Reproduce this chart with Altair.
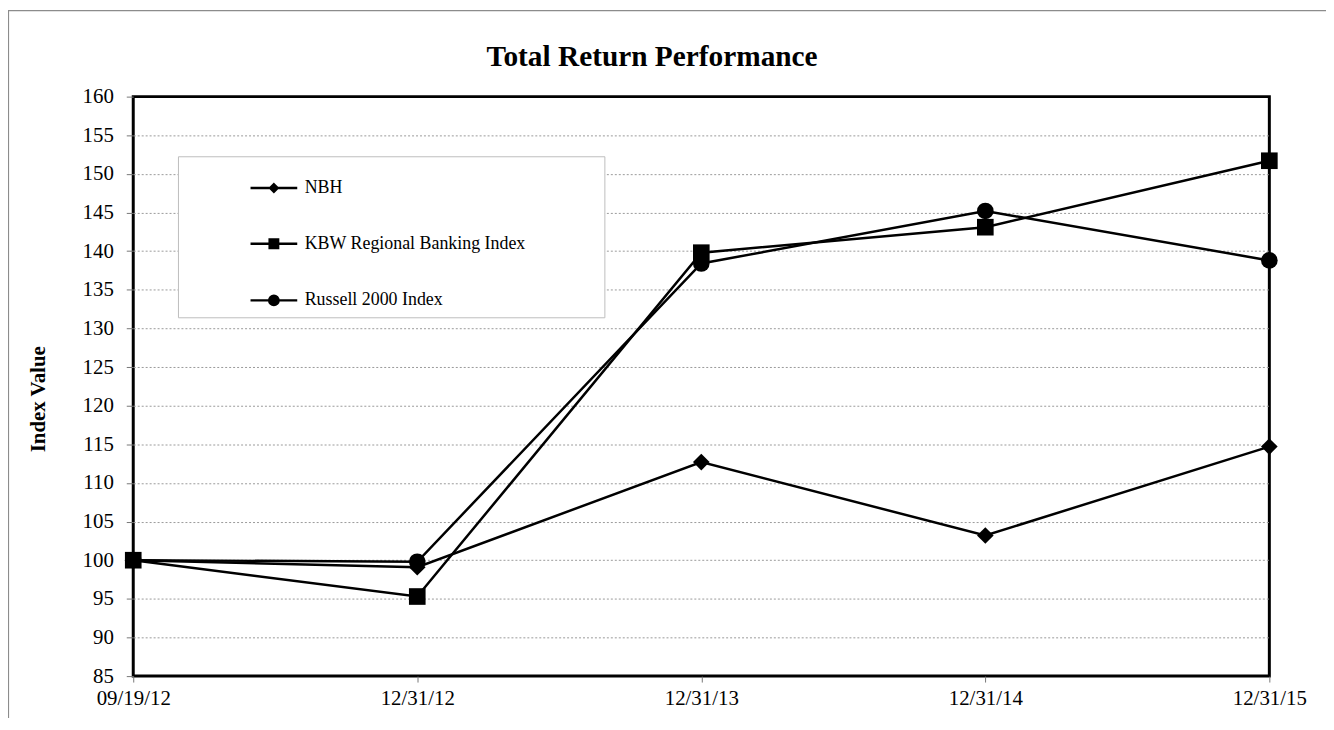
import altair as alt
import pandas as pd

dates = ["09/19/12", "12/31/12", "12/31/13", "12/31/14", "12/31/15"]
series_names = ["NBH", "KBW Regional Banking Index", "Russell 2000 Index"]
nbh = [100.0, 99.1, 112.7, 103.2, 114.7]
kbw = [100.0, 95.3, 139.8, 143.1, 151.7]
russell = [100.0, 99.8, 138.4, 145.2, 138.8]
y_ticks = list(range(85, 161, 5))
chart_title = "Total Return Performance"

rows = []
for name, vals in zip(series_names, [nbh, kbw, russell]):
    for d, v in zip(dates, vals):
        rows.append({"date": d, "series": name, "value": v})
df = pd.DataFrame(rows)

FONT = "Liberation Serif"
W, H = 1143, 583

point_shapes = ["diamond", "square", "circle"]


def diamond(r):
    return f"M0,-{r}L{r},0L0,{r}L-{r},0Z"


def square(r):
    return f"M-{r},-{r}L{r},-{r}L{r},{r}L-{r},{r}Z"


def circle(r):
    k = round(r * 0.5523, 4)
    return (f"M{r},0C{r},{k},{k},{r},0,{r}C-{k},{r},-{r},{k},-{r},0"
            f"C-{r},-{k},-{k},-{r},0,-{r}C{k},-{r},{r},-{k},{r},0Z")


# legend glyph: a line segment with the series marker drawn on it
legend_paths = [
    "M-1,0L1,0" + "".join(diamond(r) for r in (0.16, 0.11, 0.06, 0.02)),
    "M-1,0L1,0" + "".join(square(r) for r in (0.18, 0.12, 0.06, 0.02)),
    "M-1,0L1,0" + "".join(circle(r) for r in (0.2, 0.14, 0.08, 0.03)),
]

x_enc = alt.X(
    "date:O",
    sort=dates,
    scale=alt.Scale(type="point", padding=0),
    axis=alt.Axis(
        title=None,
        labelAngle=0,
        labelFont=FONT,
        labelFontSize=21,
        labelColor="black",
        tickSize=6,
        tickColor="#777",
        tickWidth=1,
        labelPadding=6,
        domain=False,
        grid=False,
    ),
)
y_enc = alt.Y(
    "value:Q",
    scale=alt.Scale(domain=[85, 160], nice=False, zero=False),
    axis=alt.Axis(
        values=y_ticks,
        title="Index Value",
        titleFont=FONT,
        titleFontSize=21,
        titleFontWeight="bold",
        titleColor="black",
        titleAngle=-90,
        titleX=-85,
        titleY=304,
        titleAlign="center",
        titleBaseline="bottom",
        labelFont=FONT,
        labelFontSize=21,
        labelColor="black",
        labelPadding=13,
        tickSize=7,
        tickColor="#777",
        tickWidth=1,
        domain=False,
        grid=True,
        gridColor=alt.condition(
            "datum.value <= 85 || datum.value >= 160",
            alt.value("transparent"),
            alt.value("#9a9a9a"),
        ),
        gridDash=[2, 2],
        gridWidth=1,
    ),
)

base = alt.Chart(df)

lines = base.mark_line(color="black", strokeWidth=2.5).encode(
    x=x_enc, y=y_enc, detail="series:N"
)

points = base.mark_point(filled=True, color="black", opacity=1, size=280).encode(
    x=x_enc,
    y=y_enc,
    shape=alt.Shape(
        "series:N",
        scale=alt.Scale(domain=series_names, range=point_shapes),
        legend=None,
    ),
)

pad_expr = "datum.label + '" + "\u00a0" * 16 + "\u200b'"

legend_layer = base.mark_point(
    filled=False, color="black", strokeWidth=2.5, opacity=0, size=2209,
).encode(
    x=x_enc,
    y=y_enc,
    shape=alt.Shape(
        "series:N",
        scale=alt.Scale(domain=series_names, range=legend_paths),
        legend=alt.Legend(
            title=None,
            orient="none",
            legendX=45,
            legendY=60,
            padding=7,
            rowPadding=22,
            symbolOffset=64.5,
            labelOffset=6,
            symbolSize=2209,
            symbolOpacity=1,
            symbolStrokeColor="black",
            symbolStrokeWidth=2.5,
            labelFont=FONT,
            labelFontSize=18,
            labelColor="black",
            labelLimit=700,
            labelExpr=pad_expr,
            strokeColor="#bdbdbd",
            fillColor="white",
        ),
    ),
)

one_row = alt.Data(values=[{}])

frame = alt.Chart(one_row).mark_rect(
    fill="transparent", stroke="#8c8c8c", strokeWidth=1.2
).encode(
    x=alt.value(-125.5), x2=alt.value(1400), y=alt.value(-86.5), y2=alt.value(900)
)

title_mark = alt.Chart(one_row).mark_text(
    font=FONT, fontSize=29.5, fontWeight="bold", color="black",
    align="center", baseline="alphabetic",
).encode(
    x=alt.value(522), y=alt.value(-31), text=alt.value(chart_title)
)

chart = (
    alt.layer(frame, title_mark, lines, points, legend_layer)
    .resolve_scale(shape="independent")
    .resolve_legend(shape="independent")
    .properties(
        width=W,
        height=H,
        autosize=alt.AutoSizeParams(type="none"),
        padding={"left": 126, "top": 87, "right": 57, "bottom": 40},
    )
    .configure_view(stroke="black", strokeWidth=3)
)

chart.save("out.html", embed_options={"renderer": "svg", "actions": False})
